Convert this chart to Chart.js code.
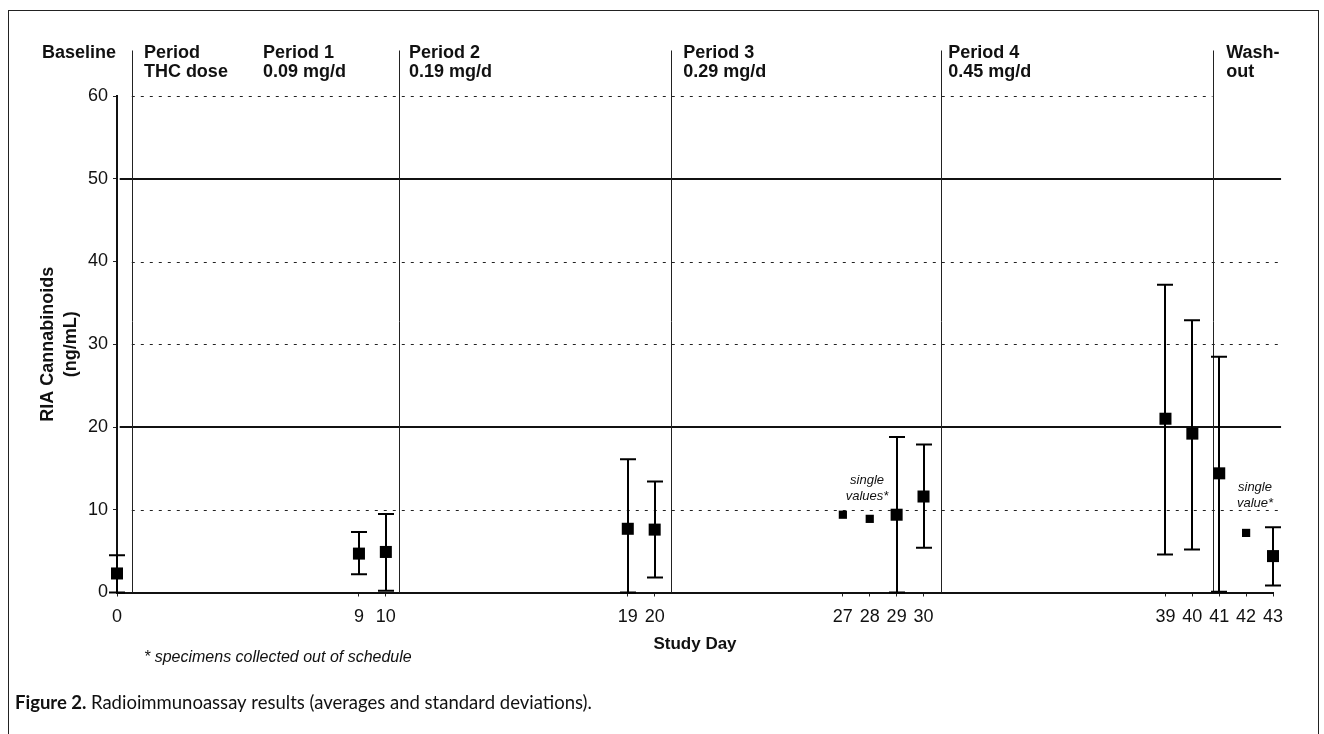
<!DOCTYPE html>
<html>
<head>
<meta charset="utf-8">
<title>Figure 2</title>
<script src="https://cdn.jsdelivr.net/npm/chart.js@4.4.1/dist/chart.umd.min.js"></script>
<style>
  html, body { margin: 0; padding: 0; background: #fff; }
  #quadro { position: absolute; left: 8px; top: 10px; width: 1309px; height: 760px; border: 1.5px solid #222; border-bottom: none; }
  #grafico { position: absolute; left: 0; top: 0; }
</style>
</head>
<body>
<div id="quadro"></div>
<canvas id="grafico" width="1324" height="734"></canvas>
<script>
// dados (medias e desvios padrao)
var diasMedia = [0, 9, 10, 19, 20, 29, 30, 39, 40, 41, 43];
var medias = [2.3, 4.7, 4.9, 7.7, 7.6, 9.4, 11.6, 21.0, 19.2, 14.4, 4.4];
var dpInferior = [0, 2.2, 0.2, 0, 1.8, 0, 5.4, 4.6, 5.2, 0.1, 0.85];
var dpSuperior = [4.5, 7.3, 9.5, 16.1, 13.4, 18.8, 17.9, 37.2, 32.9, 28.5, 7.9];

// valores unicos (fora do cronograma)
var diasUnicos = [27, 28, 42];
var valoresUnicos = [9.4, 8.9, 7.2];

var diasEixoX = [0, 9, 10, 19, 20, 27, 28, 29, 30, 39, 40, 41, 42, 43];
var ticksY = [0, 10, 20, 30, 40, 50, 60];
var linhasSolidas = [20, 50];
var linhasPontilhadas = [10, 30, 40, 60];
var limitesPeriodos = [0.55, 10.5, 20.6, 30.65, 40.75];
var rotulosPeriodos = [
  ["Period", "THC dose"],
  ["Period 1", "0.09 mg/d"],
  ["Period 2", "0.19 mg/d"],
  ["Period 3", "0.29 mg/d"],
  ["Period 4", "0.45 mg/d"],
  ["Wash-", "out"]
];
var notasUnicos = [["single", "values*"], ["single", "value*"]];

var fonte = "'Liberation Sans', Arial, sans-serif";

//desenha linhas de referencia, barras de erro e textos
var extras = {
  id: 'extras',
  beforeDatasetsDraw: function (chart) {
    var ctx = chart.ctx;
    var xs = chart.scales.x;
    var ys = chart.scales.y;
    ctx.save();

    // linhas pontilhadas
    ctx.strokeStyle = '#222';
    ctx.lineWidth = 1;
    ctx.setLineDash([3, 6]);
    linhasPontilhadas.forEach(function (v) {
      var y = Math.round(ys.getPixelForValue(v)) + 0.5;
      var fim = v >= ys.max ? limitesPeriodos[4] : 43.3;
      ctx.beginPath();
      ctx.moveTo(xs.getPixelForValue(limitesPeriodos[0]), y);
      ctx.lineTo(xs.getPixelForValue(fim), y);
      ctx.stroke();
    });
    ctx.setLineDash([]);

    // linhas solidas
    ctx.strokeStyle = '#111';
    ctx.lineWidth = 2;
    linhasSolidas.forEach(function (v) {
      var y = Math.round(ys.getPixelForValue(v));
      ctx.beginPath();
      ctx.moveTo(xs.getPixelForValue(0.1), y);
      ctx.lineTo(xs.getPixelForValue(43.3), y);
      ctx.stroke();
    });

    // separadores dos periodos
    ctx.strokeStyle = '#222';
    ctx.lineWidth = 1;
    limitesPeriodos.forEach(function (d) {
      var x = Math.round(xs.getPixelForValue(d)) + 0.5;
      ctx.beginPath();
      ctx.moveTo(x, ys.getPixelForValue(65.5));
      ctx.lineTo(x, ys.getPixelForValue(0));
      ctx.stroke();
    });

    // barras de erro
    ctx.strokeStyle = '#000';
    ctx.lineWidth = 2;
    for (var i = 0; i < diasMedia.length; i++) {
      var x = Math.round(xs.getPixelForValue(diasMedia[i]));
      var y1 = ys.getPixelForValue(dpInferior[i]);
      var y2 = ys.getPixelForValue(dpSuperior[i]);
      ctx.beginPath();
      ctx.moveTo(x, y1); ctx.lineTo(x, y2);
      ctx.moveTo(x - 8, y1); ctx.lineTo(x + 8, y1);
      ctx.moveTo(x - 8, y2); ctx.lineTo(x + 8, y2);
      ctx.stroke();
    }
    ctx.restore();
  },
  afterDraw: function (chart) {
    var ctx = chart.ctx;
    var xs = chart.scales.x;
    var ys = chart.scales.y;
    ctx.save();
    ctx.fillStyle = '#111';
    ctx.textBaseline = 'middle';

    // cabecalhos dos periodos
    ctx.font = 'bold 18px ' + fonte;
    ctx.textAlign = 'right';
    ctx.fillText('Baseline', xs.left - 1, 53);
    ctx.textAlign = 'left';
    var diasRotulos = [1.0, 5.43, 10.86, 21.06, 30.92, 41.26];
    rotulosPeriodos.forEach(function (linhas, i) {
      var x = xs.getPixelForValue(diasRotulos[i]);
      ctx.fillText(linhas[0], x, 53);
      ctx.fillText(linhas[1], x, 72);
    });

    // notas dos valores unicos
    ctx.font = 'italic 13px ' + fonte;
    ctx.textAlign = 'center';
    var posNotas = [[27.9, 13.5], [42.33, 12.75]];
    notasUnicos.forEach(function (linhas, i) {
      var x = xs.getPixelForValue(posNotas[i][0]);
      var y = ys.getPixelForValue(posNotas[i][1]);
      ctx.fillText(linhas[0], x, y);
      ctx.fillText(linhas[1], x, y + 16);
    });

    // rodape
    ctx.textAlign = 'left';
    ctx.font = 'italic 16px ' + fonte;
    ctx.fillText('* specimens collected out of schedule', 144, 658);

    // legenda da figura
    ctx.font = 'bold 18.5px Lato, sans-serif';
    var parte1 = 'Figure 2.';
    ctx.fillText(parte1, 15, 703);
    var w = ctx.measureText(parte1 + ' ').width;
    ctx.font = '18.5px Lato, sans-serif';
    ctx.fillText('Radioimmunoassay results (averages and standard deviations).', 15 + w, 703);
    ctx.restore();
  }
};

var config = {
  type: 'scatter',
  data: {
    datasets: [{
      label: 'Average',
      data: diasMedia.map(function (d, i) { return { x: d, y: medias[i] }; }),
      pointStyle: 'rect',
      pointRadius: 8.5,
      backgroundColor: '#000',
      borderColor: '#000',
      borderWidth: 0,
      clip: false
    }, {
      label: 'Single values',
      data: diasUnicos.map(function (d, i) { return { x: d, y: valoresUnicos[i] }; }),
      pointStyle: 'rect',
      pointRadius: 5.8,
      backgroundColor: '#000',
      borderColor: '#000',
      borderWidth: 0,
      clip: false
    }]
  },
  options: {
    responsive: false,
    animation: false,
    events: [],
    layout: { padding: { left: 8, right: 51, top: 96, bottom: 71.5 } },
    plugins: { legend: { display: false }, tooltip: { enabled: false } },
    scales: {
      x: {
        type: 'linear',
        min: 0,
        max: 43,
        afterBuildTicks: function (escala) {
          escala.ticks = diasEixoX.map(function (d) { return { value: d }; });
        },
        afterFit: function (escala) { escala.height = 70; },
        ticks: { autoSkip: false, maxRotation: 0, padding: 10, color: '#111', font: { family: fonte, size: 18 } },
        grid: { drawOnChartArea: false, drawTicks: true, tickLength: 4, tickColor: '#222', tickWidth: 1 },
        border: { display: true, color: '#111', width: 2 },
        title: { display: true, text: 'Study Day', color: '#111', font: { family: fonte, size: 17, weight: 'bold' }, padding: { top: 0, bottom: 8 } }
      },
      y: {
        min: 0,
        max: 60,
        afterBuildTicks: function (escala) {
          escala.ticks = ticksY.map(function (v) { return { value: v }; });
        },
        afterFit: function (escala) { escala.width = 109; },
        ticks: { padding: 5, color: '#111', font: { family: fonte, size: 18 } },
        grid: { drawOnChartArea: false, drawTicks: true, tickLength: 4, tickColor: '#222', tickWidth: 1 },
        border: { display: true, color: '#111', width: 2 },
        title: { display: true, text: ['RIA Cannabinoids', '(ng/mL)'], color: '#111', font: { family: fonte, size: 18, weight: 'bold', lineHeight: 1.3 }, padding: { top: 28, bottom: 0 } }
      }
    }
  },
  plugins: [extras]
};

var grafico = new Chart(document.getElementById('grafico'), config);
</script>
</body>
</html>
